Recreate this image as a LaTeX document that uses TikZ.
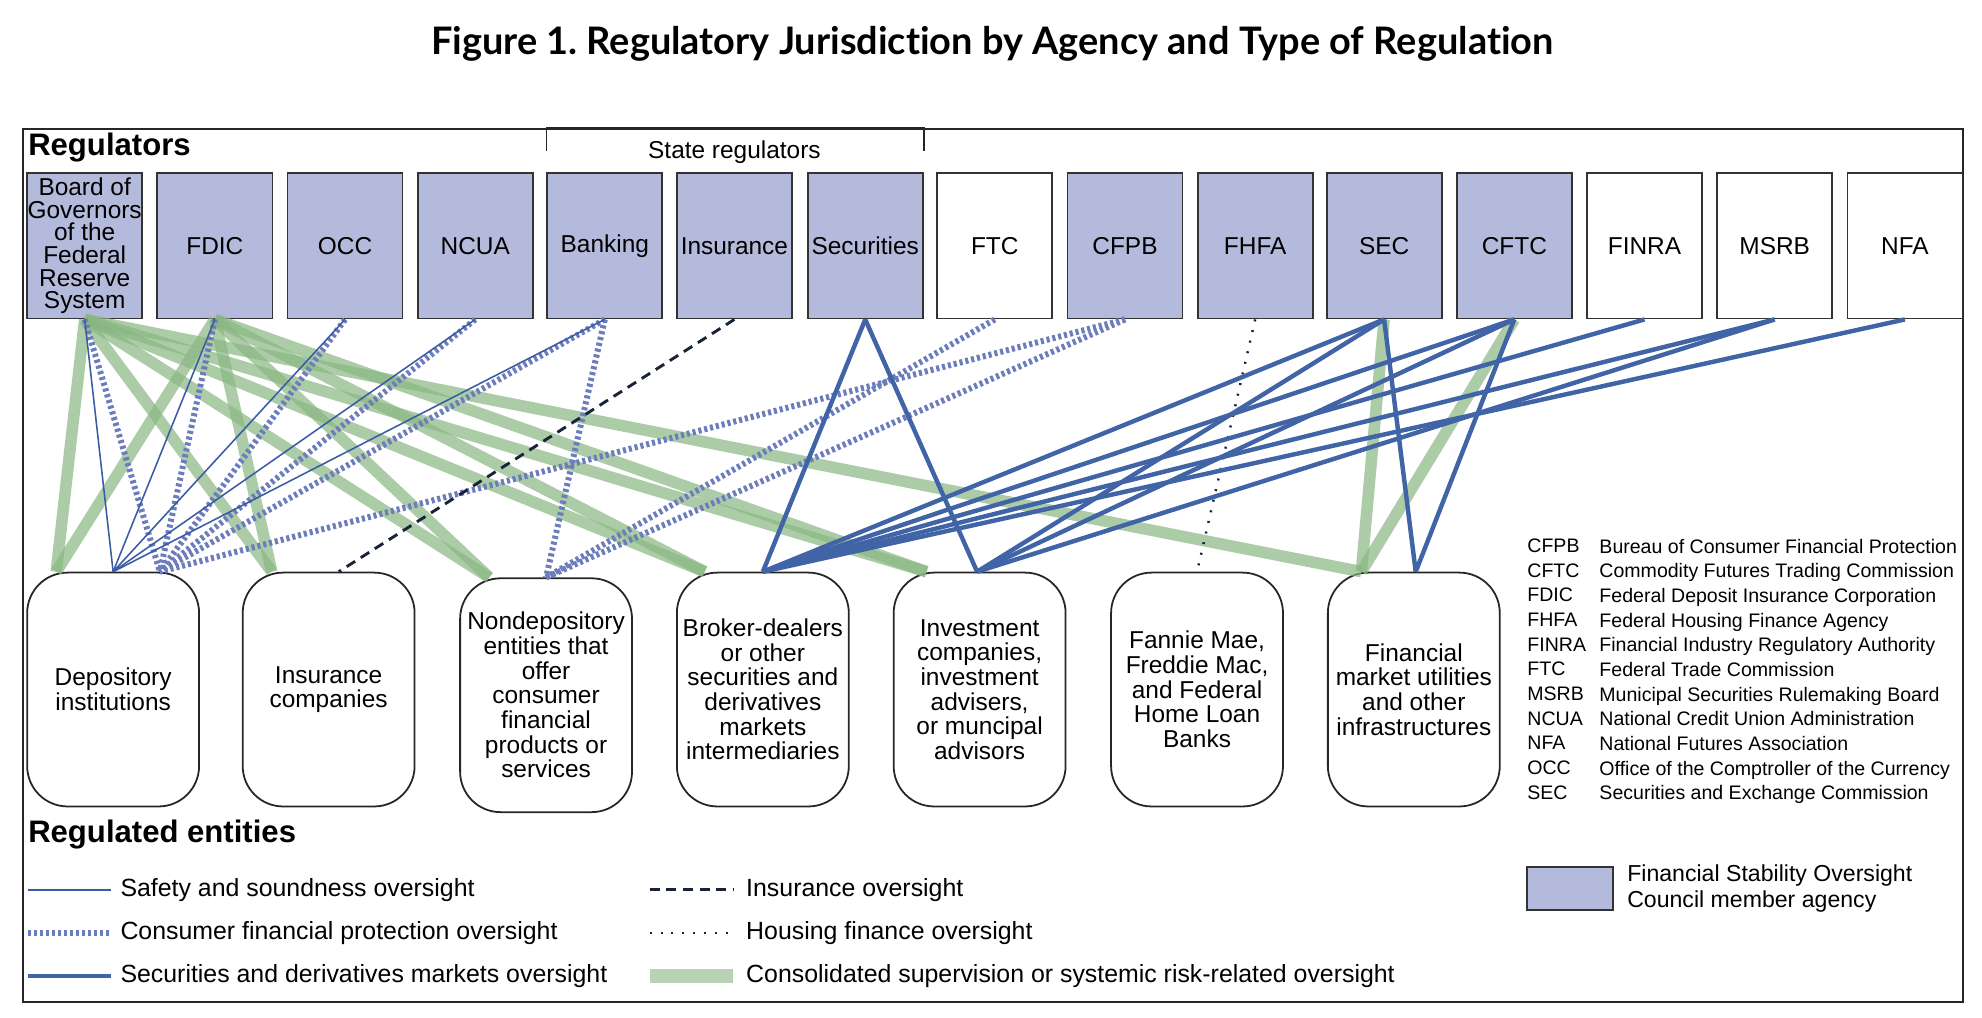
\documentclass[tikz,border=0pt]{standalone}
\usepackage{fontspec}
\setmainfont{Liberation Sans}
\newfontfamily\titlefont{Lato}[RawFeature=-liga]
\usepackage{tikz}
\usetikzlibrary{positioning}
\definecolor{fsocblue}{RGB}{180,186,219}
\definecolor{consolgreen}{RGB}{136,182,129}
\definecolor{secblue}{RGB}{64,100,165}
\definecolor{safeblue}{RGB}{58,92,165}
\definecolor{cfpblue}{RGB}{108,124,188}
\definecolor{insnavy}{RGB}{25,35,55}
\tikzset{
  regbox/.style={draw=black!80, line width=0.8pt, minimum width=18.2mm, minimum height=23mm, inner sep=0pt, align=center, font=\fontsize{11}{10.2}\selectfont},
  regfsoc/.style={regbox, fill=fsocblue},
  entbox/.style={draw=black!85, line width=0.8pt, rounded corners=6.4mm, minimum width=27.2mm, minimum height=37mm, inner sep=0pt, align=center, font=\fontsize{11}{11.1}\selectfont},
  consol/.style={consolgreen, opacity=0.7, line width=5.2pt},
  safety/.style={safeblue, line width=0.7pt},
  consumer/.style={cfpblue, line width=2.7pt, dash pattern=on 1.4pt off 1.3pt},
  securities/.style={secblue, line width=2pt},
  insur/.style={insnavy, line width=1.3pt, dash pattern=on 4.5pt off 3pt},
  housing/.style={insnavy, line width=1.1pt, dash pattern=on 0.9pt off 4pt},
  keytext/.style={anchor=west, inner sep=0pt, font=\fontsize{11.2}{12}\selectfont},
}

\begin{document}
\frenchspacing
\begin{tikzpicture}[x=0.2mm, y=-0.2mm]
\useasboundingbox (0,0) rectangle (1568,805);

\node (title) at (785,35) {\resizebox{177.6mm}{!}{\titlefont\bfseries Figure 1. Regulatory Jurisdiction by Agency and Type of Regulation}};
\draw[black!85, line width=0.9pt] (18,102) rectangle (1553,793);
\node[anchor=west, inner sep=0pt, font=\fontsize{14}{14}\selectfont\bfseries] (regs) at (22,117) {Regulators};

% regulators
\node[regfsoc] (fed) at (67,194.5) {Board of\\Governors\\of the\\Federal\\Reserve\\System};
\node[regfsoc] (fdic) at (170,194.5) {FDIC};
\node[regfsoc] (occ) at (273,194.5) {OCC};
\node[regfsoc] (ncua) at (376,194.5) {NCUA};
\node[regfsoc] (stbank) at (478.5,194.5) {Banking};
\node[regfsoc] (stins) at (581,194.5) {Insurance};
\node[regfsoc] (stsec) at (684.5,194.5) {Securities};
\node[regbox] (ftc) at (787,194.5) {FTC};
\node[regfsoc] (cfpb) at (890,194.5) {CFPB};
\node[regfsoc] (fhfa) at (993,194.5) {FHFA};
\node[regfsoc] (sec) at (1095,194.5) {SEC};
\node[regfsoc] (cftc) at (1198,194.5) {CFTC};
\node[regbox] (finra) at (1301,194.5) {FINRA};
\node[regbox] (msrb) at (1404,194.5) {MSRB};
\node[regbox] (nfa) at (1507,194.5) {NFA};

\draw[black!85, line width=0.8pt] ([yshift=3.4mm]stbank.north west) -- ([yshift=7mm]stbank.north west) -| ([yshift=3.4mm]stsec.north east);
\node[font=\fontsize{11}{11}\selectfont] (stateregs) at (581,120) {State regulators};

% regulated entities
\node[entbox] (dep) at (89.5,545.5) {Depository\\institutions};
\node[entbox] (inscos) at (260,545.5) {Insurance\\companies};
\node[entbox] (nondep) at (432,550) {Nondepository\\entities that\\offer\\consumer\\financial\\products or\\services};
\node[entbox] (bd) at (603.5,545.5) {Broker-dealers\\or other\\securities and\\derivatives\\markets\\intermediaries};
\node[entbox] (ic) at (775,545.5) {Investment\\companies,\\investment\\advisers,\\or muncipal\\advisors};
\node[entbox] (gse) at (947,545.5) {Fannie Mae,\\Freddie Mac,\\and Federal\\Home Loan\\Banks};
\node[entbox] (fmu) at (1118.5,545.5) {Financial\\market utilities\\and other\\infrastructures};

\coordinate (dep-g) at ([xshift=-9mm]dep.north);
\coordinate (dep-c) at ([xshift=7.4mm]dep.north);
\coordinate (inscos-g) at ([xshift=-9mm]inscos.north);
\coordinate (inscos-d) at ([xshift=1.6mm]inscos.north);
\coordinate (nondep-g) at ([xshift=-9mm]nondep.north);
\coordinate (bd-g) at ([xshift=-9.2mm]bd.north);
\coordinate (ic-g) at ([xshift=-8.4mm]ic.north);
\coordinate (ic-s) at ([xshift=-0.4mm]ic.north);
\coordinate (fmu-g) at ([xshift=-8.3mm]fmu.north);
\coordinate (fmu-s) at ([xshift=0.3mm]fmu.north);

% consolidated supervision
\draw[consol] (fed.south) -- (dep-g);
\draw[consol] (fed.south) -- (inscos-g);
\draw[consol] (fed.south) -- (nondep-g);
\draw[consol] (fed.south) -- (bd-g);
\draw[consol] (fed.south) -- (ic-g);
\draw[consol] (fed.south) -- (fmu-g);
\draw[consol] (fdic.south) -- (dep-g);
\draw[consol] (fdic.south) -- (inscos-g);
\draw[consol] (fdic.south) -- (nondep-g);
\draw[consol] (fdic.south) -- (bd-g);
\draw[consol] (fdic.south) -- (ic-g);
\draw[consol] (sec.south) -- (fmu-g);
\draw[consol] (cftc.south) -- (fmu-g);

% consumer protection
\draw[consumer] (fed.south) -- (dep-c);
\draw[consumer] (fdic.south) -- (dep-c);
\draw[consumer] (occ.south) -- (dep-c);
\draw[consumer] (ncua.south) -- (dep-c);
\draw[consumer] (stbank.south) -- (dep-c);
\draw[consumer] (cfpb.south) -- (dep-c);
\draw[consumer] (stbank.south) -- (nondep.north);
\draw[consumer] (ftc.south) -- (nondep.north);
\draw[consumer] (cfpb.south) -- (nondep.north);

% safety and soundness
\draw[safety] (fed.south) -- (dep.north);
\draw[safety] (fdic.south) -- (dep.north);
\draw[safety] (occ.south) -- (dep.north);
\draw[safety] (ncua.south) -- (dep.north);
\draw[safety] (stbank.south) -- (dep.north);

\draw[insur] (stins.south) -- (inscos-d);
\draw[housing] (fhfa.south) -- (gse.north);

% securities and derivatives
\draw[securities] (stsec.south) -- (bd.north);
\draw[securities] (stsec.south) -- (ic-s);
\draw[securities] (sec.south) -- (bd.north);
\draw[securities] (sec.south) -- (ic-s);
\draw[securities] (sec.south) -- (fmu-s);
\draw[securities] (cftc.south) -- (bd.north);
\draw[securities] (cftc.south) -- (ic-s);
\draw[securities] (cftc.south) -- (fmu-s);
\draw[securities] (finra.south) -- (bd.north);
\draw[securities] (msrb.south) -- (bd.north);
\draw[securities] (msrb.south) -- (ic-s);
\draw[securities] (nfa.south) -- (bd.north);

% abbreviations
\node[anchor=north west, inner sep=0pt, align=left, font=\fontsize{8.8}{11.1}\selectfont] (abbr) at (1208,426) {CFPB\\CFTC\\FDIC\\FHFA\\FINRA\\FTC\\MSRB\\NCUA\\NFA\\OCC\\SEC};
\node[anchor=north west, inner sep=0pt, align=left, font=\fontsize{8.8}{11.1}\selectfont] (abbrfull) at (1265,426) {Bureau of Consumer Financial Protection\\Commodity Futures Trading Commission\\Federal Deposit Insurance Corporation\\Federal Housing Finance Agency\\Financial Industry Regulatory Authority\\Federal Trade Commission\\Municipal Securities Rulemaking Board\\National Credit Union Administration\\National Futures Association\\Office of the Comptroller of the Currency\\Securities and Exchange Commission};

% key
\node[anchor=west, inner sep=0pt, font=\fontsize{14}{14}\selectfont\bfseries] (regents) at (22,660) {Regulated entities};
\node[keytext] (ksafe) at (95,704) {Safety and soundness oversight};
\node[keytext] (kcons) at (95,738) {Consumer financial protection oversight};
\node[keytext] (ksecs) at (95,772) {Securities and derivatives markets oversight};
\node[keytext] (kins) at (590,704) {Insurance oversight};
\node[keytext] (khous) at (590,738) {Housing finance oversight};
\node[keytext] (kcons2) at (590,772) {Consolidated supervision or systemic risk-related oversight};
\draw[safety] ([xshift=-14.6mm]ksafe.west) -- ([xshift=-1.4mm]ksafe.west);
\draw[consumer] ([xshift=-14.6mm]kcons.west) -- ([xshift=-1.4mm]kcons.west);
\draw[securities] ([xshift=-14.6mm]ksecs.west) -- ([xshift=-1.4mm]ksecs.west);
\draw[insur] ([xshift=-15.2mm]kins.west) -- ([xshift=-2mm]kins.west);
\draw[housing] ([xshift=-15.2mm]khous.west) -- ([xshift=-2mm]khous.west);
\draw[consol, line width=6pt, opacity=0.6] ([xshift=-15.2mm]kcons2.west) -- ([xshift=-2mm]kcons2.west);

\node[regfsoc, minimum width=13.6mm, minimum height=6.8mm] (kfsoc) at (1242,703) {};
\node[anchor=west, inner sep=0pt, align=left, font=\fontsize{10.4}{12}\selectfont] (kfsoctxt) at (1287,703) {Financial Stability Oversight\\Council member agency};
\end{tikzpicture}
\end{document}
